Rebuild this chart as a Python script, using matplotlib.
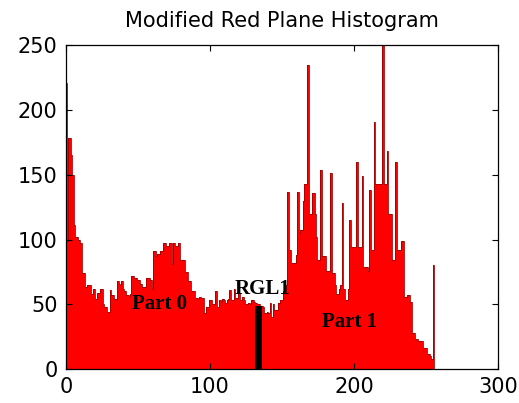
import numpy as np
import matplotlib
matplotlib.use("Agg")
import matplotlib.pyplot as plt

# Histogram counts for red levels 0..255
counts = [
    221, 99, 178, 178, 165, 150, 111, 102, 102, 100,   # 0-9
    97, 97, 74, 74, 63, 65, 65, 65, 58, 62,            # 10-19
    62, 54, 59, 59, 62, 62, 50, 48, 48, 44,            # 20-29
    44, 61, 57, 57, 54, 54, 68, 66, 65, 68,            # 30-39
    62, 60, 57, 57, 56, 58, 72, 72, 70, 70,            # 40-49
    69, 69, 66, 63, 63, 63, 70, 70, 70, 69,            # 50-59
    62, 91, 91, 87, 89, 89, 91, 91, 97, 97,            # 60-69
    95, 95, 97, 97, 81, 97, 95, 95, 97, 97,            # 70-79
    84, 84, 84, 75, 75, 68, 68, 60, 60, 60,            # 80-89
    55, 55, 54, 56, 55, 55, 43, 43, 48, 48,            # 90-99
    53, 53, 50, 50, 60, 48, 48, 53, 52, 54,            # 100-109
    53, 51, 53, 54, 61, 53, 53, 62, 55, 55,            # 110-119
    59, 53, 53, 56, 53, 50, 50, 51, 50, 53,            # 120-129
    53, 52, 51, 50, 50, 49, 49, 48, 43, 43,            # 130-139
    44, 43, 51, 40, 50, 46, 46, 46, 51, 53,            # 140-149
    53, 60, 60, 65, 137, 92, 92, 82, 82, 82,           # 150-159
    88, 137, 105, 107, 107, 130, 143, 143, 235, 120,   # 160-169
    120, 136, 136, 120, 102, 84, 84, 154, 87, 87,      # 170-179
    87, 76, 76, 76, 151, 74, 74, 65, 58, 58,           # 180-189
    62, 65, 128, 62, 53, 53, 62, 115, 94, 94,          # 190-199
    94, 94, 160, 94, 94, 94, 149, 79, 79, 79,          # 200-209
    76, 138, 92, 92, 191, 143, 143, 143, 143, 143,     # 210-219
    250, 143, 143, 168, 120, 120, 120, 84, 84, 160,    # 220-229
    92, 92, 92, 99, 99, 56, 56, 57, 57, 52,            # 230-239
    52, 28, 28, 23, 23, 22, 22, 22, 16, 16,            # 240-249
    16, 12, 12, 10, 8, 80,                             # 250-255
]
levels = np.arange(len(counts))

# Threshold marker RGL1
rgl_level = 133.6
rgl_height = 49

title = "Modified Red Plane Histogram"
xticks = [0, 100, 200, 300]
yticks = [0, 50, 100, 150, 200, 250]
labels = [("Part 0", 46, 50), ("RGL1", 117, 62), ("Part 1", 178, 36)]

fig = plt.figure(figsize=(5.19, 4.03), dpi=100)
ax = fig.add_axes([0.127, 0.084, 0.833, 0.804])

edges = np.append(levels - 0.5, levels[-1] + 0.5)
ax.stairs(counts, edges, fill=True, color="#ff0000", linewidth=0)
ax.stairs(counts, edges, color="#a00000", linewidth=0.6)
ax.bar([rgl_level], [rgl_height], width=4.6, color="black", linewidth=0)

ax.set_xlim(0, 300)
ax.set_ylim(0, 250)
ax.set_xticks(xticks)
ax.set_yticks(yticks)
ax.tick_params(direction="in", top=True, right=True, labelsize=15, length=4, width=0.8, pad=6)
for s in ax.spines.values():
    s.set_linewidth(0.9)
ax.set_title(title, fontsize=15, pad=13)

for txt, x, y in labels:
    ax.text(x, y, txt, fontsize=15, fontweight="bold", family="Liberation Serif",
            va="center", ha="left", color="black")

fig.savefig("out.png", dpi=100)
